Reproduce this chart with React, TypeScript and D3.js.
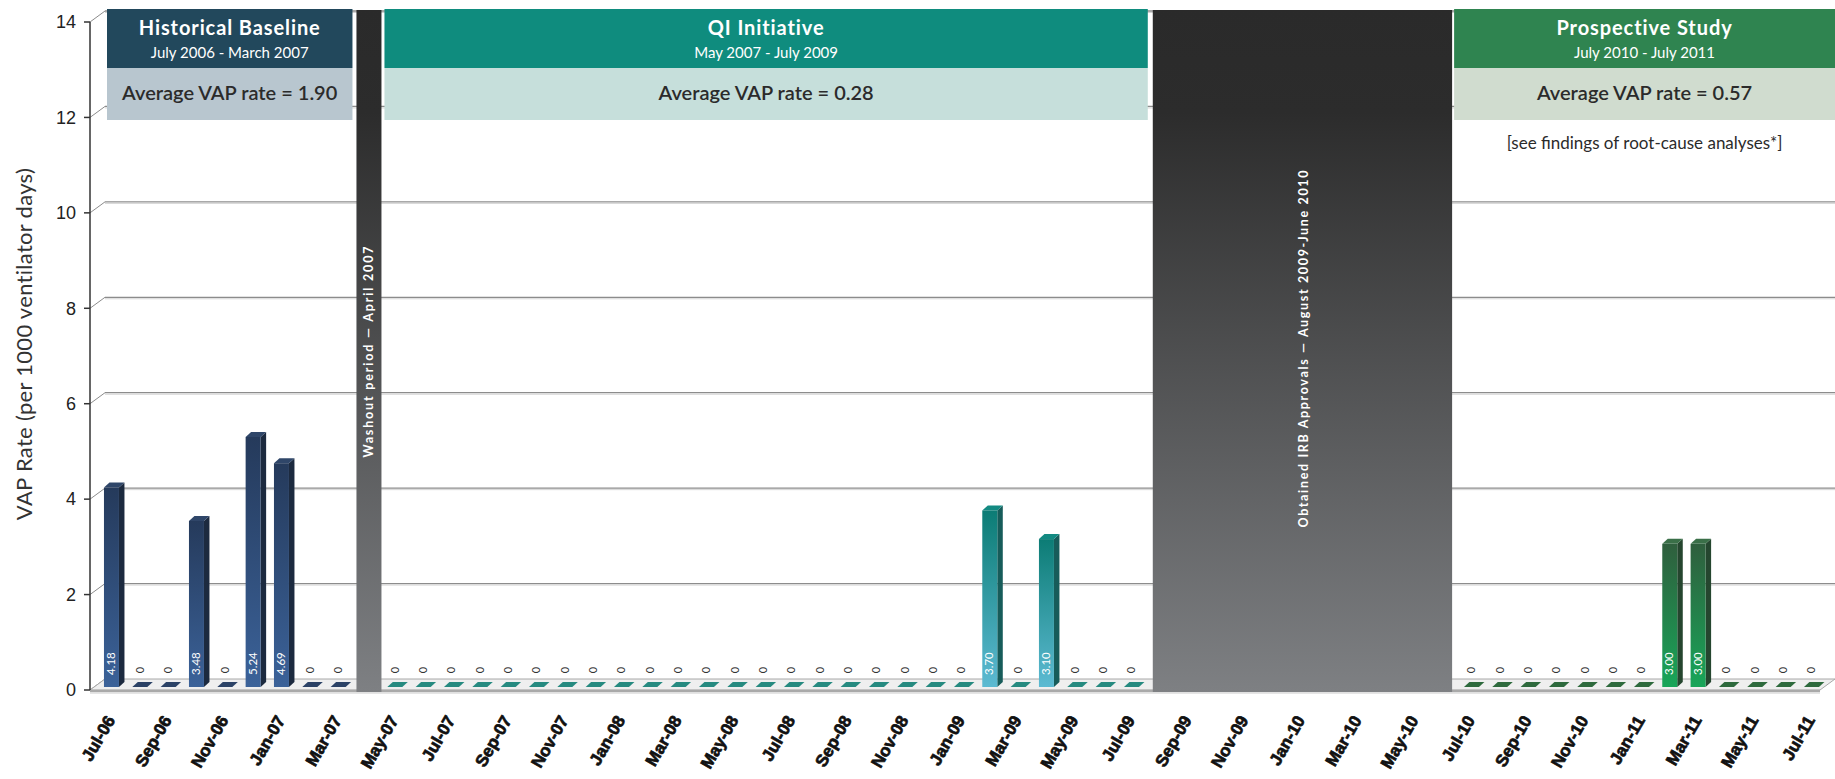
import * as React from "react";
import * as d3 from "d3";

// months on the x axis, Jul-06 .. Jul-11
const months: string[] = [
  "Jul-06", "Aug-06", "Sep-06", "Oct-06", "Nov-06", "Dec-06",
  "Jan-07", "Feb-07", "Mar-07", "Apr-07", "May-07", "Jun-07", "Jul-07", "Aug-07", "Sep-07", "Oct-07", "Nov-07", "Dec-07",
  "Jan-08", "Feb-08", "Mar-08", "Apr-08", "May-08", "Jun-08", "Jul-08", "Aug-08", "Sep-08", "Oct-08", "Nov-08", "Dec-08",
  "Jan-09", "Feb-09", "Mar-09", "Apr-09", "May-09", "Jun-09", "Jul-09", "Aug-09", "Sep-09", "Oct-09", "Nov-09", "Dec-09",
  "Jan-10", "Feb-10", "Mar-10", "Apr-10", "May-10", "Jun-10", "Jul-10", "Aug-10", "Sep-10", "Oct-10", "Nov-10", "Dec-10",
  "Jan-11", "Feb-11", "Mar-11", "Apr-11", "May-11", "Jun-11", "Jul-11"
];

const xTickLabels: string[] = [
  "Jul-06", "Sep-06", "Nov-06", "Jan-07", "Mar-07", "May-07", "Jul-07", "Sep-07", "Nov-07",
  "Jan-08", "Mar-08", "May-08", "Jul-08", "Sep-08", "Nov-08", "Jan-09", "Mar-09", "May-09", "Jul-09",
  "Sep-09", "Nov-09", "Jan-10", "Mar-10", "May-10", "Jul-10", "Sep-10", "Nov-10", "Jan-11", "Mar-11",
  "May-11", "Jul-11"
];

const yTicks: number[] = [0, 2, 4, 6, 8, 10, 12, 14];

// VAP rates per period (start month + monthly values)
const historicalStart = "Jul-06";
const historicalRates: number[] = [4.18, 0, 0, 3.48, 0, 5.24, 4.69, 0, 0];

const qiStart = "May-07";
const qiRates: number[] = [
  0, 0, 0, 0, 0, 0, 0, 0, 0, 0, 0, 0, 0, 0, 0, 0, 0, 0, 0, 0, 0,
  3.70, 0, 3.10, 0, 0, 0
];

const prospectiveStart = "Jul-10";
const prospectiveRates: number[] = [0, 0, 0, 0, 0, 0, 0, 3.00, 3.00, 0, 0, 0, 0];

const washoutMonth = "Apr-07";
const washoutText = "Washout period \u2014 April 2007";
const irbFirst = "Aug-09";
const irbLast = "Jun-10";
const irbText = "Obtained IRB Approvals \u2014 August 2009-June 2010";

const periodTitles: string[] = ["Historical Baseline", "QI Initiative", "Prospective Study"];
const periodSubtitles: string[] = ["July 2006 - March 2007", "May 2007 - July 2009", "July 2010 - July 2011"];
const periodAverages: string[] = ["Average VAP rate = 1.90", "Average VAP rate = 0.28", "Average VAP rate = 0.57"];
const prospectiveNote = "[see findings of root-cause analyses*]";

type Series = "hist" | "qi" | "pros";

const palette: Record<Series, { top: string; bottom: string; side: string; cap: string; dash: string; head: string; light: string }> = {
  hist: { top: "#253a5b", bottom: "#3b6299", side: "#1c2a3f", cap: "#2f4669", dash: "#2b4266", head: "#22485c", light: "#b8c6cf" },
  qi: { top: "#0c7c75", bottom: "#5cbad2", side: "#175c5a", cap: "#138a82", dash: "#268a80", head: "#0f8c7e", light: "#c6dfdb" },
  pros: { top: "#2f5e3d", bottom: "#18a659", side: "#25462f", cap: "#3a6f48", dash: "#2e6a3d", head: "#2f8450", light: "#d0dccf" }
};

interface Bar {
  month: string;
  value: number;
  series: Series;
}

function toBars(start: string, values: number[], series: Series): Bar[] {
  const i0 = months.indexOf(start);
  return values.map((v, i) => ({ month: months[i0 + i], value: v, series }));
}

const W = 1835;
const H = 779;

export default function App(): JSX.Element {
  const x = d3.scaleBand<string>().domain(months).range([97.3, 1825.6]);
  const cx = (m: string): number => (x(m) as number) + x.bandwidth() / 2;
  const y = d3.scaleLinear().domain([0, 14]).range([690, 22]);

  const axisX = 90;
  const depthX = 15;
  const depthY = 11;
  const wallLeft = axisX + depthX;
  const floorFront = y(0);
  const floorBack = floorFront - depthY;
  const barBase = floorFront - 3;
  const hw = 7.5;
  const bdx = 5.5;
  const bdy = 5;

  const bars: Bar[] = [
    ...toBars(historicalStart, historicalRates, "hist"),
    ...toBars(qiStart, qiRates, "qi"),
    ...toBars(prospectiveStart, prospectiveRates, "pros")
  ];

  const washL = cx(washoutMonth) - 10;
  const washR = cx(washoutMonth) + 15;
  const irbL = cx(irbFirst) - 7;
  const irbR = cx(irbLast) + 9;
  const blockTop = 10;
  const blockBottom = floorFront + 2;

  const boxes = [
    { s: "hist" as Series, l: wallLeft + 2, r: washL - 4 },
    { s: "qi" as Series, l: washR + 3, r: irbL - 5 },
    { s: "pros" as Series, l: irbR + 2, r: W }
  ];
  const headTop = 9;
  const headBottom = 68;
  const lightBottom = 120;

  const yBar = (v: number): number => y(v) - (floorFront - barBase);

  return (
    <svg width={W} height={H} style={{ position: "absolute", left: 0, top: 0, background: "#fff" }}
      fontFamily="Lato, 'Open Sans', sans-serif">
      <defs>
        {(Object.keys(palette) as Series[]).map((s) => (
          <linearGradient key={s} id={`grad-${s}`} x1="0" y1="0" x2="0" y2="1">
            <stop offset="0%" stopColor={palette[s].top} />
            <stop offset="100%" stopColor={palette[s].bottom} />
          </linearGradient>
        ))}
        <linearGradient id="grad-gray" x1="0" y1="0" x2="0" y2="1">
          <stop offset="0%" stopColor="#2a2a2a" />
          <stop offset="15%" stopColor="#2c2c2c" />
          <stop offset="100%" stopColor="#7e8083" />
        </linearGradient>
      </defs>

      {/* back wall grid lines + perspective tick connectors */}
      {yTicks.filter((t) => t > 0).map((t) => (
        <g key={`g${t}`}>
          <line x1={wallLeft} x2={W} y1={y(t) - depthY} y2={y(t) - depthY} stroke="#8c8c8c" strokeWidth={1.3} />
          <line x1={wallLeft} x2={W} y1={y(t) - depthY + 1.5} y2={y(t) - depthY + 1.5} stroke="#d4d4d4" strokeWidth={1} />
        </g>
      ))}
      {yTicks.map((t) => (
        <line key={`d${t}`} x1={axisX} y1={y(t)} x2={wallLeft} y2={y(t) - depthY} stroke="#8c8c8c" strokeWidth={1} />
      ))}

      {/* floor */}
      <polygon
        points={`${axisX},${floorFront} ${W - 15},${floorFront} ${W},${floorBack} ${wallLeft},${floorBack}`}
        fill="#efefef" stroke="#a8a8a8" strokeWidth={1} />
      <line x1={axisX} x2={W - 15} y1={floorFront + 1} y2={floorFront + 1} stroke="#a9a9a9" strokeWidth={2.5} />
      <line x1={axisX} x2={W - 15} y1={floorFront + 3} y2={floorFront + 3} stroke="#dcdcdc" strokeWidth={1.5} />

      {/* y axis */}
      <line x1={axisX} x2={axisX} y1={y(14)} y2={y(0)} stroke="#333" strokeWidth={1.5} />
      {yTicks.map((t) => (
        <g key={`t${t}`}>
          <line x1={axisX - 6} x2={axisX} y1={y(t)} y2={y(t)} stroke="#333" strokeWidth={1.5} />
          <text x={axisX - 14} y={y(t)} dy="0.35em" textAnchor="end" fontSize={18}
            fontFamily="'Liberation Sans', Arial, sans-serif" fill="#222">{t}</text>
        </g>
      ))}
      <text transform={`translate(24,344) rotate(-90)`} textAnchor="middle" dy="0.35em" fontSize={22}
        letterSpacing={0.3} fill="#333">VAP Rate (per 1000 ventilator days)</text>

      {/* washout + IRB blocks */}
      <rect x={washL} y={blockTop} width={washR - washL} height={blockBottom - blockTop} fill="url(#grad-gray)" />
      <text transform={`translate(${(washL + washR) / 2},352) rotate(-90)`} textAnchor="middle" dy="0.35em"
        fontSize={12.5} fontWeight="bold" fill="#fff" textLength={211} lengthAdjust="spacing">{washoutText}</text>
      <rect x={irbL} y={blockTop} width={irbR - irbL} height={blockBottom - blockTop} fill="url(#grad-gray)" />
      <text transform={`translate(${(irbL + irbR) / 2 + 1},349) rotate(-90)`} textAnchor="middle" dy="0.35em"
        fontSize={12.5} fontWeight="bold" fill="#fff" textLength={357} lengthAdjust="spacing">{irbText}</text>

      {/* period header boxes */}
      {boxes.map((b, i) => {
        const mid = (b.l + b.r) / 2;
        return (
          <g key={`box${i}`}>
            <rect x={b.l} y={headTop} width={b.r - b.l} height={headBottom - headTop} fill={palette[b.s].head} />
            <rect x={b.l} y={headBottom} width={b.r - b.l} height={lightBottom - headBottom} fill={palette[b.s].light} />
            <text x={mid} y={35} textAnchor="middle" fontSize={20} fontWeight="bold" letterSpacing={0.9}
              fill="#fff">{periodTitles[i]}</text>
            <text x={mid} y={58} textAnchor="middle" fontSize={15} fill="#fff">{periodSubtitles[i]}</text>
            <text x={mid} y={100} textAnchor="middle" fontSize={20} fontWeight={600} fill="#2b2b2b">{periodAverages[i]}</text>
          </g>
        );
      })}
      <text x={(boxes[2].l + boxes[2].r) / 2} y={149} textAnchor="middle" fontSize={17} fill="#2b2b2b">{prospectiveNote}</text>

      {/* bars */}
      {bars.map((b) => {
        const c = cx(b.month);
        const p = palette[b.series];
        if (b.value === 0) {
          return (
            <g key={b.month}>
              <polygon
                points={`${c - hw},${barBase} ${c + hw},${barBase} ${c + hw + bdx},${barBase - bdy} ${c - hw + bdx},${barBase - bdy}`}
                fill={p.dash} />
              <text transform={`translate(${c},${barBase - 17}) rotate(-90)`} textAnchor="middle" dy="0.35em"
                fontSize={11} fill="#333">0</text>
            </g>
          );
        }
        const top = yBar(b.value);
        return (
          <g key={b.month}>
            <polygon
              points={`${c + hw},${top} ${c + hw + bdx},${top - bdy} ${c + hw + bdx},${barBase - bdy} ${c + hw},${barBase}`}
              fill={p.side} />
            <polygon
              points={`${c - hw},${top} ${c - hw + bdx},${top - bdy} ${c + hw + bdx},${top - bdy} ${c + hw},${top}`}
              fill={p.cap} />
            <rect x={c - hw} y={top} width={hw * 2} height={barBase - top} fill={`url(#grad-${b.series})`} />
            <text transform={`translate(${c - 0.5},${barBase - 12}) rotate(-90)`} dy="0.35em" textAnchor="start"
              fontSize={11.5} fill="#fff">{b.value.toFixed(2)}</text>
          </g>
        );
      })}

      {/* x axis labels */}
      {xTickLabels.map((m) => (
        <text key={`x${m}`} transform={`translate(${cx(m) - 1},717) rotate(-60)`} textAnchor="end" dy="0.35em"
          fontSize={17} fontWeight="bold" fontFamily="'Liberation Sans', Arial, sans-serif"
          fill="#111" stroke="#111" strokeWidth={0.7}>{m}</text>
      ))}
    </svg>
  );
}
